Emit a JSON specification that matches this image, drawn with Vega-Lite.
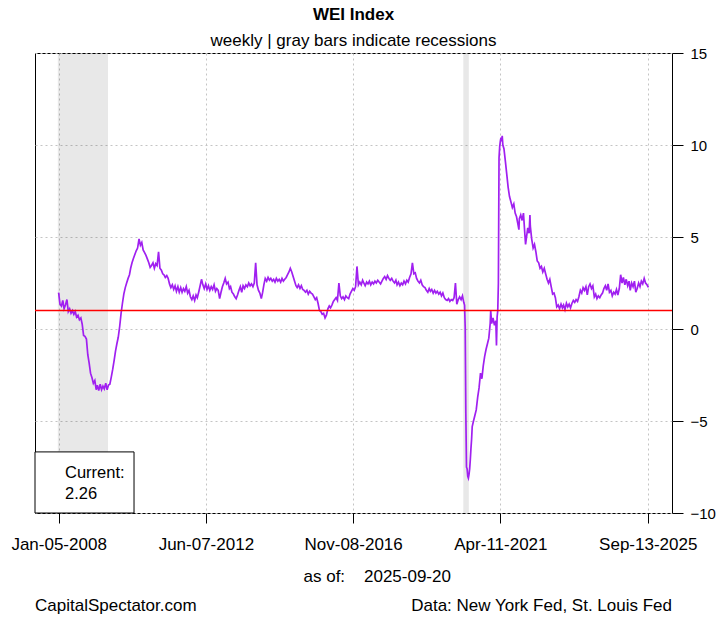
{
  "$schema": "https://vega.github.io/schema/vega-lite/v6.json",
  "width": 637,
  "height": 460,
  "autosize": {"type": "none"},
  "padding": {"left": 35, "top": 53, "right": 45, "bottom": 104},
  "background": "white",
  "title": {
    "text": "WEI Index",
    "subtitle": "weekly | gray bars indicate recessions",
    "anchor": "middle",
    "font": "Liberation Sans",
    "fontSize": 17,
    "fontWeight": "bold",
    "color": "#000000",
    "subtitleFont": "Liberation Sans",
    "subtitleFontSize": 17,
    "subtitleColor": "#000000",
    "subtitlePadding": 9,
    "offset": -4
  },
  "datasets": {
    "recessions": [
      {"start": "2007-12-27", "end": "2009-06-30"},
      {"start": "2020-02-29", "end": "2020-04-30"}
    ],
    "wei": [
      {"d":"2008-01-05","v":1.98},{"d":"2008-01-20","v":1.35},{"d":"2008-02-05","v":1.25},{"d":"2008-02-20","v":1.55},
      {"d":"2008-03-05","v":1.1},{"d":"2008-03-20","v":1.3},{"d":"2008-04-05","v":1.6},{"d":"2008-04-20","v":0.95},
      {"d":"2008-05-05","v":1.1},{"d":"2008-05-20","v":0.85},{"d":"2008-06-05","v":1.0},{"d":"2008-06-20","v":0.8},
      {"d":"2008-07-05","v":0.95},{"d":"2008-07-20","v":0.65},{"d":"2008-08-05","v":0.75},{"d":"2008-08-20","v":0.5},
      {"d":"2008-09-05","v":0.6},{"d":"2008-09-20","v":0.25},{"d":"2008-10-05","v":-0.35},{"d":"2008-10-20","v":-0.4},
      {"d":"2008-11-05","v":-0.55},{"d":"2008-11-20","v":-1.4},{"d":"2008-12-05","v":-1.85},{"d":"2008-12-20","v":-2.4},
      {"d":"2009-01-05","v":-2.65},{"d":"2009-01-20","v":-2.95},{"d":"2009-02-05","v":-2.8},{"d":"2009-02-20","v":-3.3},
      {"d":"2009-03-05","v":-3.05},{"d":"2009-03-20","v":-3.35},{"d":"2009-04-05","v":-3.0},{"d":"2009-04-20","v":-3.3},
      {"d":"2009-05-05","v":-3.1},{"d":"2009-05-20","v":-3.25},{"d":"2009-06-05","v":-2.95},{"d":"2009-06-20","v":-3.3},
      {"d":"2009-07-05","v":-3.05},{"d":"2009-07-20","v":-3.0},{"d":"2009-08-05","v":-2.6},{"d":"2009-08-20","v":-2.2},
      {"d":"2009-09-05","v":-1.7},{"d":"2009-09-20","v":-1.2},{"d":"2009-10-05","v":-0.8},{"d":"2009-10-20","v":-0.45},
      {"d":"2009-11-05","v":0.15},{"d":"2009-11-20","v":0.85},{"d":"2009-12-05","v":1.4},{"d":"2009-12-20","v":1.9},
      {"d":"2010-01-05","v":2.25},{"d":"2010-01-20","v":2.5},{"d":"2010-02-05","v":2.75},{"d":"2010-02-20","v":2.95},
      {"d":"2010-03-05","v":3.3},{"d":"2010-03-20","v":3.6},{"d":"2010-04-05","v":3.85},{"d":"2010-04-20","v":4.05},
      {"d":"2010-05-05","v":4.25},{"d":"2010-05-20","v":4.4},{"d":"2010-06-05","v":4.9},{"d":"2010-06-20","v":4.55},
      {"d":"2010-07-05","v":4.7},{"d":"2010-07-20","v":4.3},{"d":"2010-08-05","v":4.15},{"d":"2010-08-20","v":4.0},
      {"d":"2010-09-05","v":3.8},{"d":"2010-09-20","v":3.6},{"d":"2010-10-05","v":3.35},{"d":"2010-10-20","v":3.45},
      {"d":"2010-11-05","v":3.6},{"d":"2010-11-20","v":3.3},{"d":"2010-12-05","v":3.55},{"d":"2010-12-20","v":3.45},
      {"d":"2011-01-05","v":4.2},{"d":"2011-01-20","v":3.3},{"d":"2011-02-05","v":3.2},{"d":"2011-02-20","v":3.0},
      {"d":"2011-03-05","v":2.95},{"d":"2011-03-20","v":2.8},{"d":"2011-04-05","v":2.9},{"d":"2011-04-20","v":2.75},
      {"d":"2011-05-05","v":2.45},{"d":"2011-05-20","v":2.25},{"d":"2011-06-05","v":2.4},{"d":"2011-06-20","v":2.15},
      {"d":"2011-07-05","v":2.35},{"d":"2011-07-20","v":2.05},{"d":"2011-08-05","v":2.3},{"d":"2011-08-20","v":2.0},
      {"d":"2011-09-05","v":2.25},{"d":"2011-09-20","v":2.0},{"d":"2011-10-05","v":2.2},{"d":"2011-10-20","v":2.05},
      {"d":"2011-11-05","v":2.3},{"d":"2011-11-20","v":1.95},{"d":"2011-12-05","v":2.1},{"d":"2011-12-20","v":1.75},
      {"d":"2012-01-05","v":1.6},{"d":"2012-01-20","v":1.8},{"d":"2012-02-05","v":1.55},{"d":"2012-02-20","v":1.85},
      {"d":"2012-03-05","v":1.7},{"d":"2012-03-20","v":2.0},{"d":"2012-04-05","v":2.35},{"d":"2012-04-20","v":2.7},
      {"d":"2012-05-05","v":2.4},{"d":"2012-05-20","v":2.2},{"d":"2012-06-05","v":2.45},{"d":"2012-06-20","v":2.15},
      {"d":"2012-07-05","v":2.35},{"d":"2012-07-20","v":2.1},{"d":"2012-08-05","v":2.3},{"d":"2012-08-20","v":2.15},
      {"d":"2012-09-05","v":2.4},{"d":"2012-09-20","v":2.05},{"d":"2012-10-05","v":2.2},{"d":"2012-10-20","v":2.1},
      {"d":"2012-11-05","v":1.65},{"d":"2012-11-20","v":2.0},{"d":"2012-12-05","v":2.3},{"d":"2012-12-20","v":2.5},
      {"d":"2013-01-05","v":2.75},{"d":"2013-01-20","v":2.45},{"d":"2013-02-05","v":2.55},{"d":"2013-02-20","v":2.2},
      {"d":"2013-03-05","v":2.3},{"d":"2013-03-20","v":2.0},{"d":"2013-04-05","v":1.9},{"d":"2013-04-20","v":1.75},
      {"d":"2013-05-05","v":1.65},{"d":"2013-05-20","v":1.85},{"d":"2013-06-05","v":2.1},{"d":"2013-06-20","v":2.3},
      {"d":"2013-07-05","v":2.0},{"d":"2013-07-20","v":2.35},{"d":"2013-08-05","v":2.2},{"d":"2013-08-20","v":2.4},
      {"d":"2013-09-05","v":2.3},{"d":"2013-09-20","v":2.5},{"d":"2013-10-05","v":2.35},{"d":"2013-10-20","v":2.45},
      {"d":"2013-11-05","v":2.3},{"d":"2013-11-20","v":2.5},{"d":"2013-12-05","v":3.6},{"d":"2013-12-20","v":2.4},
      {"d":"2014-01-05","v":2.1},{"d":"2014-01-20","v":1.95},{"d":"2014-02-05","v":1.65},{"d":"2014-02-20","v":2.0},
      {"d":"2014-03-05","v":2.4},{"d":"2014-03-20","v":2.75},{"d":"2014-04-05","v":2.6},{"d":"2014-04-20","v":2.8},
      {"d":"2014-05-05","v":2.65},{"d":"2014-05-20","v":2.75},{"d":"2014-06-05","v":2.6},{"d":"2014-06-20","v":2.7},
      {"d":"2014-07-05","v":2.55},{"d":"2014-07-20","v":2.75},{"d":"2014-08-05","v":2.6},{"d":"2014-08-20","v":2.7},
      {"d":"2014-09-05","v":2.55},{"d":"2014-09-20","v":2.75},{"d":"2014-10-05","v":2.6},{"d":"2014-10-20","v":2.7},
      {"d":"2014-11-05","v":2.8},{"d":"2014-11-20","v":2.95},{"d":"2014-12-05","v":3.1},{"d":"2014-12-20","v":3.3},
      {"d":"2015-01-05","v":3.1},{"d":"2015-01-20","v":2.85},{"d":"2015-02-05","v":2.6},{"d":"2015-02-20","v":2.35},
      {"d":"2015-03-05","v":2.25},{"d":"2015-03-20","v":2.4},{"d":"2015-04-05","v":2.2},{"d":"2015-04-20","v":2.35},
      {"d":"2015-05-05","v":2.15},{"d":"2015-05-20","v":2.1},{"d":"2015-06-05","v":2.0},{"d":"2015-06-20","v":2.1},
      {"d":"2015-07-05","v":1.9},{"d":"2015-07-20","v":2.05},{"d":"2015-08-05","v":1.95},{"d":"2015-08-20","v":1.9},
      {"d":"2015-09-05","v":1.75},{"d":"2015-09-20","v":1.6},{"d":"2015-10-05","v":1.7},{"d":"2015-10-20","v":1.4},
      {"d":"2015-11-05","v":1.0},{"d":"2015-11-20","v":0.95},{"d":"2015-12-05","v":0.8},{"d":"2015-12-20","v":0.85},
      {"d":"2016-01-05","v":0.6},{"d":"2016-01-20","v":0.75},{"d":"2016-02-05","v":1.1},{"d":"2016-02-20","v":1.25},
      {"d":"2016-03-05","v":1.15},{"d":"2016-03-20","v":1.3},{"d":"2016-04-05","v":1.5},{"d":"2016-04-20","v":1.6},
      {"d":"2016-05-05","v":1.7},{"d":"2016-05-20","v":1.55},{"d":"2016-06-05","v":2.5},{"d":"2016-06-20","v":1.8},
      {"d":"2016-07-05","v":1.65},{"d":"2016-07-20","v":1.75},{"d":"2016-08-05","v":1.6},{"d":"2016-08-20","v":1.8},
      {"d":"2016-09-05","v":1.7},{"d":"2016-09-20","v":1.65},{"d":"2016-10-05","v":1.9},{"d":"2016-10-20","v":2.05},
      {"d":"2016-11-05","v":2.2},{"d":"2016-11-20","v":2.1},{"d":"2016-12-05","v":2.3},{"d":"2016-12-20","v":3.4},
      {"d":"2017-01-05","v":2.4},{"d":"2017-01-20","v":2.55},{"d":"2017-02-05","v":2.4},{"d":"2017-02-20","v":2.65},
      {"d":"2017-03-05","v":2.5},{"d":"2017-03-20","v":2.35},{"d":"2017-04-05","v":2.55},{"d":"2017-04-20","v":2.45},
      {"d":"2017-05-05","v":2.6},{"d":"2017-05-20","v":2.4},{"d":"2017-06-05","v":2.55},{"d":"2017-06-20","v":2.45},
      {"d":"2017-07-05","v":2.6},{"d":"2017-07-20","v":2.5},{"d":"2017-08-05","v":2.65},{"d":"2017-08-20","v":2.55},
      {"d":"2017-09-05","v":2.45},{"d":"2017-09-20","v":2.6},{"d":"2017-10-05","v":2.75},{"d":"2017-10-20","v":2.85},
      {"d":"2017-11-05","v":2.7},{"d":"2017-11-20","v":2.9},{"d":"2017-12-05","v":2.75},{"d":"2017-12-20","v":2.65},
      {"d":"2018-01-05","v":2.75},{"d":"2018-01-20","v":2.6},{"d":"2018-02-05","v":2.5},{"d":"2018-02-20","v":2.65},
      {"d":"2018-03-05","v":2.4},{"d":"2018-03-20","v":2.55},{"d":"2018-04-05","v":2.35},{"d":"2018-04-20","v":2.5},
      {"d":"2018-05-05","v":2.4},{"d":"2018-05-20","v":2.6},{"d":"2018-06-05","v":2.45},{"d":"2018-06-20","v":2.65},
      {"d":"2018-07-05","v":2.55},{"d":"2018-07-20","v":2.8},{"d":"2018-08-05","v":3.0},{"d":"2018-08-20","v":3.6},
      {"d":"2018-09-05","v":3.0},{"d":"2018-09-20","v":3.05},{"d":"2018-10-05","v":2.75},{"d":"2018-10-20","v":2.6},
      {"d":"2018-11-05","v":2.5},{"d":"2018-11-20","v":2.65},{"d":"2018-12-05","v":2.4},{"d":"2018-12-20","v":2.3},
      {"d":"2019-01-05","v":2.25},{"d":"2019-01-20","v":2.1},{"d":"2019-02-05","v":2.0},{"d":"2019-02-20","v":2.2},
      {"d":"2019-03-05","v":2.05},{"d":"2019-03-20","v":2.15},{"d":"2019-04-05","v":1.95},{"d":"2019-04-20","v":2.1},
      {"d":"2019-05-05","v":1.95},{"d":"2019-05-20","v":2.05},{"d":"2019-06-05","v":1.9},{"d":"2019-06-20","v":2.0},
      {"d":"2019-07-05","v":1.8},{"d":"2019-07-20","v":1.95},{"d":"2019-08-05","v":1.7},{"d":"2019-08-20","v":1.6},
      {"d":"2019-09-05","v":1.55},{"d":"2019-09-20","v":1.65},{"d":"2019-10-05","v":1.5},{"d":"2019-10-20","v":1.6},
      {"d":"2019-11-05","v":1.55},{"d":"2019-11-20","v":1.7},{"d":"2019-12-05","v":2.5},{"d":"2019-12-20","v":1.35},
      {"d":"2020-01-05","v":1.6},{"d":"2020-01-20","v":1.75},{"d":"2020-02-05","v":1.6},{"d":"2020-02-20","v":1.8},
      {"d":"2020-03-05","v":1.45},{"d":"2020-03-14","v":1.3},{"d":"2020-03-21","v":0.1},{"d":"2020-03-28","v":-4.6},
      {"d":"2020-04-04","v":-7.5},{"d":"2020-04-11","v":-7.6},{"d":"2020-04-18","v":-8.0},{"d":"2020-04-25","v":-8.1},
      {"d":"2020-05-02","v":-7.9},{"d":"2020-05-09","v":-7.6},{"d":"2020-05-16","v":-7.1},{"d":"2020-05-23","v":-6.5},
      {"d":"2020-05-30","v":-6.0},{"d":"2020-06-06","v":-5.3},{"d":"2020-06-20","v":-5.0},{"d":"2020-07-05","v":-4.7},
      {"d":"2020-07-20","v":-4.4},{"d":"2020-08-05","v":-3.7},{"d":"2020-08-20","v":-3.2},{"d":"2020-09-05","v":-2.4},
      {"d":"2020-09-20","v":-2.7},{"d":"2020-10-05","v":-2.0},{"d":"2020-10-20","v":-1.5},{"d":"2020-11-05","v":-1.1},
      {"d":"2020-11-20","v":-0.8},{"d":"2020-12-05","v":-0.5},{"d":"2020-12-20","v":0.3},{"d":"2020-12-26","v":1.0},
      {"d":"2021-01-05","v":0.3},{"d":"2021-01-20","v":0.6},{"d":"2021-02-05","v":0.2},{"d":"2021-02-20","v":0.45},
      {"d":"2021-02-27","v":-0.9},{"d":"2021-03-06","v":0.65},{"d":"2021-03-13","v":1.0},{"d":"2021-03-20","v":2.5},
      {"d":"2021-03-27","v":9.3},{"d":"2021-04-03","v":9.9},{"d":"2021-04-10","v":10.2},{"d":"2021-04-17","v":10.4},
      {"d":"2021-04-24","v":10.2},{"d":"2021-05-01","v":10.5},{"d":"2021-05-08","v":10.0},{"d":"2021-05-20","v":9.8},
      {"d":"2021-06-05","v":9.1},{"d":"2021-06-20","v":8.4},{"d":"2021-07-05","v":7.7},{"d":"2021-07-20","v":7.2},
      {"d":"2021-08-05","v":6.9},{"d":"2021-08-20","v":6.6},{"d":"2021-09-05","v":6.8},{"d":"2021-09-20","v":6.3},
      {"d":"2021-10-05","v":6.1},{"d":"2021-10-20","v":5.7},{"d":"2021-10-31","v":5.4},{"d":"2021-11-05","v":6.0},
      {"d":"2021-11-20","v":6.2},{"d":"2021-12-05","v":5.9},{"d":"2021-12-20","v":6.3},
      {"d":"2022-01-05","v":5.1},{"d":"2022-01-12","v":4.6},{"d":"2022-01-20","v":4.9},{"d":"2022-02-05","v":5.5},
      {"d":"2022-02-20","v":5.2},{"d":"2022-03-01","v":6.2},{"d":"2022-03-05","v":5.6},{"d":"2022-03-20","v":4.9},
      {"d":"2022-04-05","v":4.4},{"d":"2022-04-20","v":4.6},{"d":"2022-05-05","v":4.2},{"d":"2022-05-20","v":3.7},
      {"d":"2022-06-05","v":3.6},{"d":"2022-06-20","v":3.3},{"d":"2022-07-05","v":3.4},{"d":"2022-07-20","v":3.1},
      {"d":"2022-08-05","v":3.3},{"d":"2022-08-20","v":3.0},{"d":"2022-09-05","v":2.7},{"d":"2022-09-20","v":2.5},
      {"d":"2022-10-05","v":2.7},{"d":"2022-10-20","v":2.3},{"d":"2022-11-05","v":1.9},{"d":"2022-11-20","v":1.95},
      {"d":"2022-12-05","v":1.7},{"d":"2022-12-20","v":1.2},
      {"d":"2023-01-05","v":1.3},{"d":"2023-01-20","v":1.1},{"d":"2023-02-05","v":1.35},{"d":"2023-02-20","v":1.15},
      {"d":"2023-03-05","v":1.3},{"d":"2023-03-20","v":1.05},{"d":"2023-04-05","v":1.4},{"d":"2023-04-20","v":1.2},
      {"d":"2023-05-05","v":1.35},{"d":"2023-05-20","v":1.15},{"d":"2023-06-05","v":1.4},{"d":"2023-06-20","v":1.55},
      {"d":"2023-07-05","v":1.45},{"d":"2023-07-20","v":1.6},{"d":"2023-08-05","v":1.5},{"d":"2023-08-20","v":1.75},
      {"d":"2023-09-05","v":2.1},{"d":"2023-09-20","v":1.95},{"d":"2023-10-05","v":2.25},{"d":"2023-10-20","v":2.1},
      {"d":"2023-11-05","v":2.3},{"d":"2023-11-20","v":1.85},{"d":"2023-12-05","v":2.3},{"d":"2023-12-20","v":2.45},
      {"d":"2024-01-05","v":2.2},{"d":"2024-01-20","v":2.35},{"d":"2024-02-05","v":1.75},{"d":"2024-02-20","v":1.9},
      {"d":"2024-03-05","v":1.65},{"d":"2024-03-20","v":1.8},{"d":"2024-04-05","v":1.7},{"d":"2024-04-20","v":1.85},
      {"d":"2024-05-05","v":1.95},{"d":"2024-05-20","v":2.2},{"d":"2024-06-05","v":2.35},{"d":"2024-06-20","v":2.1},
      {"d":"2024-07-05","v":2.45},{"d":"2024-07-20","v":2.0},{"d":"2024-08-05","v":2.1},{"d":"2024-08-20","v":1.8},
      {"d":"2024-09-05","v":2.0},{"d":"2024-09-20","v":1.9},{"d":"2024-10-05","v":2.15},{"d":"2024-10-20","v":1.85},
      {"d":"2024-11-05","v":2.2},{"d":"2024-11-20","v":2.95},{"d":"2024-12-05","v":2.5},{"d":"2024-12-20","v":2.8},
      {"d":"2025-01-05","v":2.4},{"d":"2025-01-20","v":2.7},{"d":"2025-02-05","v":2.35},{"d":"2025-02-20","v":2.6},
      {"d":"2025-03-05","v":2.1},{"d":"2025-03-20","v":2.5},{"d":"2025-04-05","v":2.3},{"d":"2025-04-20","v":2.6},
      {"d":"2025-05-05","v":2.0},{"d":"2025-05-20","v":2.2},{"d":"2025-06-05","v":2.5},{"d":"2025-06-20","v":2.3},
      {"d":"2025-07-05","v":2.6},{"d":"2025-07-20","v":2.45},{"d":"2025-08-05","v":2.75},{"d":"2025-08-20","v":2.5},
      {"d":"2025-09-05","v":2.4},{"d":"2025-09-20","v":2.26}
    ]
  },
  "layer": [
    {
      "data": {"name": "recessions"},
      "mark": {"type": "rect", "fill": "#000000", "fillOpacity": 0.09},
      "encoding": {
        "x": {"field": "start", "type": "temporal"},
        "x2": {"field": "end"}
      }
    },
    {
      "data": {"name": "wei"},
      "mark": {"type": "line", "color": "#A020F0", "strokeWidth": 1.7},
      "encoding": {
        "x": {
          "field": "d",
          "type": "temporal",
          "scale": {"domain": [{"year": 2007, "month": 4, "date": 21}, {"year": 2026, "month": 6, "date": 6}], "nice": false},
          "axis": {
            "values": [
              {"year": 2008, "month": 1, "date": 5},
              {"year": 2012, "month": 6, "date": 7},
              {"year": 2016, "month": 11, "date": 8},
              {"year": 2021, "month": 4, "date": 11},
              {"year": 2025, "month": 9, "date": 13}
            ],
            "format": "%b-%d-%Y",
            "title": "as of:\u00a0\u00a0\u00a0\u00a02025-09-20",
            "titleX": 268,
            "titleY": 68,
            "titleAlign": "left",
            "titleBaseline": "alphabetic",
            "titleFontWeight": "normal",
            "titleFontSize": 17,
            "titleColor": "#000000",
            "labelFontSize": 17,
            "labelColor": "#000000",
            "labelPadding": 13,
            "labelFlush": false,
            "labelOverlap": false,
            "tickSize": 10,
            "tickColor": "#000000",
            "domain": false,
            "grid": true,
            "gridColor": "#c4c4c4",
            "gridDash": [2, 3]
          }
        },
        "y": {
          "field": "v",
          "type": "quantitative",
          "scale": {"domain": [-10, 15], "nice": false, "zero": false},
          "axis": {
            "orient": "right",
            "values": [-10, -5, 0, 5, 10, 15],
            "title": null,
            "tickSize": 11,
            "tickColor": "#000000",
            "labelPadding": 7,
            "labelFontSize": 15,
            "labelColor": "#000000",
            "labelFlush": false,
            "domain": false,
            "grid": true,
            "gridColor": "#c4c4c4",
            "gridDash": [2, 3]
          }
        }
      }
    },
    {
      "data": {"values": [{}]},
      "mark": {"type": "rule", "color": "#FF0000", "strokeWidth": 1.5},
      "encoding": {"y": {"datum": 1, "type": "quantitative"}}
    },
    {
      "data": {"values": [{}]},
      "mark": {"type": "rect", "fill": "white", "stroke": "#000000", "strokeWidth": 1},
      "encoding": {
        "x": {"datum": {"year": 2007, "month": 4, "date": 21}, "type": "temporal"},
        "x2": {"datum": {"year": 2010, "month": 4, "date": 11}},
        "y": {"datum": -10, "type": "quantitative"},
        "y2": {"datum": -6.68}
      }
    },
    {
      "data": {"values": [{}]},
      "mark": {"type": "text", "text": "Current:", "align": "left", "baseline": "alphabetic", "fontSize": 16.5, "color": "#000000"},
      "encoding": {
        "x": {"datum": {"year": 2008, "month": 3, "date": 15}, "type": "temporal"},
        "y": {"datum": -8.08, "type": "quantitative"}
      }
    },
    {
      "data": {"values": [{}]},
      "mark": {"type": "text", "text": "2.26", "align": "left", "baseline": "alphabetic", "fontSize": 16.5, "color": "#000000"},
      "encoding": {
        "x": {"datum": {"year": 2008, "month": 3, "date": 15}, "type": "temporal"},
        "y": {"datum": -9.26, "type": "quantitative"}
      }
    },
    {
      "data": {"values": [{}]},
      "mark": {"type": "text", "text": "CapitalSpectator.com", "align": "left", "baseline": "alphabetic", "dy": 98, "fontSize": 17, "color": "#000000"},
      "encoding": {
        "x": {"datum": {"year": 2007, "month": 4, "date": 21}, "type": "temporal"},
        "y": {"datum": -10, "type": "quantitative"}
      }
    },
    {
      "data": {"values": [{}]},
      "mark": {"type": "text", "text": "Data: New York Fed, St. Louis Fed", "align": "right", "baseline": "alphabetic", "dy": 98, "fontSize": 17, "color": "#000000"},
      "encoding": {
        "x": {"datum": {"year": 2026, "month": 6, "date": 6}, "type": "temporal"},
        "y": {"datum": -10, "type": "quantitative"}
      }
    }
  ],
  "config": {
    "font": "Liberation Sans",
    "view": {"stroke": "#000000", "strokeWidth": 1}
  }
}
